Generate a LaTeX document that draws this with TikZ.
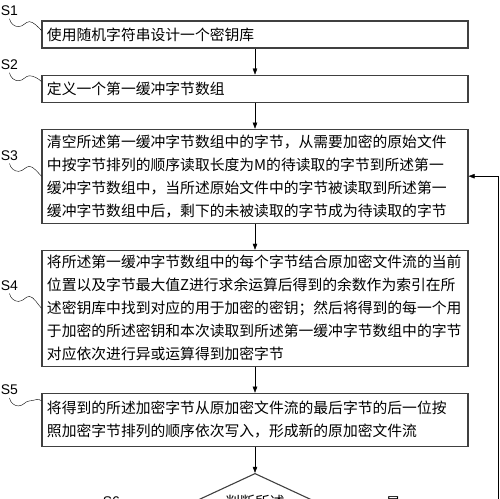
\documentclass[tikz,border=0pt]{standalone}
\usepackage{fontspec}
\setmainfont{Liberation Sans}
\newfontfamily\cjk{Noto Sans CJK SC}
\usetikzlibrary{positioning,arrows.meta,shapes.geometric}

\begin{document}
\begin{tikzpicture}[
			x=1bp, y=1bp,
			node distance=26bp,
			box/.style={
					draw=black!75,
					line width=1.1bp,
					align=left,
					text width=416bp,
					inner xsep=5bp,
					inner ysep=5bp,
					minimum height=27bp,
					font=\cjk\fontsize{14.8bp}{23bp}\selectfont
				},
			decision/.style={
					diamond,
					draw=black!75,
					line width=1.1bp,
					minimum width=172bp,
					minimum height=80bp,
					inner sep=0pt
				},
			steplabel/.style={inner sep=3bp, font=\fontsize{14bp}{16bp}\selectfont},
			lead/.style={
					thin,
					to path={.. controls +(1,-5) and +(-4,0) .. ++(9,-8)
							.. controls +(5,0) and +(-4,0) .. ++(11,5)
							.. controls +(4,0) and +(-3,3) .. (\tikztotarget)}
				},
			> ={Triangle[length=6bp,width=4.5bp]}
		]

		\path[use as bounding box, clip] (0,0) rectangle (500,-499);

		\node (s1) [box] at (255,-34.5)
		{使用随机字符串设计一个密钥库};

		\node (s2) [box, below=of s1]
		{定义一个第一缓冲字节数组};

		\node (s3) [box, below=of s2, minimum height=94bp]
		{清空所述第一缓冲字节数组中的字节，从需要加密的原始文件\\
			中按字节排列的顺序读取长度为M的待读取的字节到所述第一\\
			缓冲字节数组中，当所述原始文件中的字节被读取到所述第一\\
			缓冲字节数组中后，剩下的未被读取的字节成为待读取的字节};

		\node (s4) [box, below=of s3, minimum height=114bp]
		{将所述第一缓冲字节数组中的每个字节结合原加密文件流的当前\\
			位置以及字节最大值Z进行求余运算后得到的余数作为索引在所\\
			述密钥库中找到对应的用于加密的密钥；然后将得到的每一个用\\
			于加密的所述密钥和本次读取到所述第一缓冲字节数组中的字节\\
			对应依次进行异或运算得到加密字节};

		\node (s5) [box, below=of s4, minimum height=53bp]
		{将得到的所述加密字节从原加密文件流的最后字节的后一位按\\
			照加密字节排列的顺序依次写入，形成新的原加密文件流};

		\node (q) [decision, below=of s5] {};
		\node (qtext) [font=\cjk\fontsize{14.8bp}{23bp}\selectfont]
		at ([yshift=-29bp]q.north) {判断所述};

		% step labels
		\node (l1) [steplabel] at ([shift={(-32bp,24bp)}]s1.west) {S1};
		\node (l2) [steplabel] at ([shift={(-32bp,24bp)}]s2.west) {S2};
		\node (l3) [steplabel] at ([shift={(-32bp,21bp)}]s3.west) {S3};
		\node (l4) [steplabel] at ([shift={(-32bp,23bp)}]s4.west) {S4};
		\node (l5) [steplabel] at ([shift={(-32bp,30bp)}]s5.west) {S5};
		\node (l6) [steplabel] at ([shift={(-57bp,12bp)}]q.west) {S6};

		\draw[lead] (l1.south) to ([yshift=-10bp]s1.north west);
		\draw[lead] (l2.south) to ([yshift=-7bp]s2.north west);
		\draw[lead] (l3.south) to (s3.west);
		\draw[lead] (l4.south) to (s4.west);
		\draw[lead] (l5.south) to ([yshift=-8bp]s5.north west);
		\draw[lead] (l6.south) to (q.west);

		\draw[->] (s1) -- (s2);
		\draw[->] (s2) -- (s3);
		\draw[->] (s3) -- (s4);
		\draw[->] (s4) -- (s5);
		\draw[->] (s5) -- (q);

		\coordinate (back) at (498,0);
		\draw[->] (q.east) -- node[pos=0.33, above,
				font=\cjk\fontsize{14.8bp}{16bp}\selectfont] (yes) {是}
		(q.east -| back) |- (s3.east);

	\end{tikzpicture}
\end{document}
